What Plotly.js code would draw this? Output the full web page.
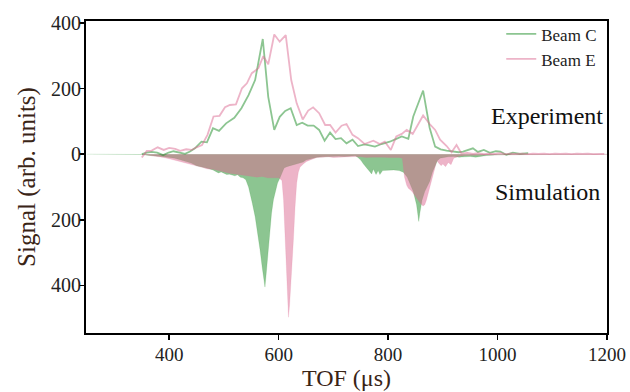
<!DOCTYPE html>
<html>
<head>
<meta charset="utf-8">
<script src="https://cdn.plot.ly/plotly-3.0.1.min.js"></script>
<style>html,body{margin:0;padding:0;background:#fff;}#chart{width:630px;height:392px;}</style>
</head>
<body>
<div id="chart"></div>
<script>
// Experiment, Beam C (TOF in µs, signal in arb. units)
var expC_tof = [350,359,368,378,389,399,408,419,429,438,447,459,469,480,491,504,519,532,545,557,571,581,592,602,612,622,633,643,653,664,674,684,694,704,714,724,735,745,757,766,776,788,803,814,825,837,846,864,876,886,896,907,919,929,937,946,955,964,975,986,997,1005,1016,1028,1041,1056];
var expC_sig = [0,5,7,5,-3,5,9,5,1,8,18,38,36,79,71,94,111,140,180,226,351,175,74,114,132,140,89,96,87,87,74,41,66,46,49,33,44,25,30,27,23,31,38,46,54,47,115,194,80,23,15,11,7,6,8,12,18,7,13,4,9,8,-2,5,1,3];

// Experiment, Beam E
var expE_tof = [350,359,368,379,390,400,411,420,431,441,450,460,470,481,492,502,511,522,533,542,551,563,572,581,592,602,613,623,633,644,654,663,674,685,694,704,715,724,735,745,757,773,785,794,805,815,825,834,845,864,876,886,895,907,916,925,934,945,955,965,975,985,995,1005,1015,1025,1035,1045,1055,1065,1075,1085,1095,1105,1115,1125,1135,1145,1155,1165,1175,1185,1195];
var expE_sig = [-10,10,11,21,13,19,16,10,15,13,21,28,59,115,117,143,150,152,201,216,247,262,299,274,365,343,363,226,155,106,133,143,125,89,89,66,87,92,59,49,31,41,31,38,13,54,62,74,62,118,92,74,44,25,6,28,2,4,1,3,0,2,1,3,0,2,1,2,0,2,1,2,0,2,1,2,0,2,1,2,0,1,1];

// Simulation, Beam C (magnitude, drawn downward)
var simC_tof = [250,300,340,350,360,370,380,390,400,410,420,430,440,450,460,470,480,485,490,495,500,505,510,515,520,525,530,535,540,545,548,552,557,562,566,570,573,575,577,578.5,581,584.5,587,590.5,594,598,603,606,610,615,620,630,640,645,650,660,670,680,690,700,710,720,730,740,745,750,755,760,765,770,773,778,782,785,790,800,810,820,828,835,840,846,852,856,858,862,867,872,876,881,886,890,895,900,910,920,930,940,950,960,970,980,990,1000,1050,1100,1200];
var simC_sig = [0,0,0,1,3,4,5,8,10,12,17,22,27,35,38,43,48,52,57,54,58,62,61,64,66,63,70,72,78,100,119,150,190,240,291,345,390,405,370,342,290,230,180,139,110,88,70,55,42,38,36,32,28,24,18,13,9,8,7,8,6,7,6,5,10,18,30,40,48,60,45,62,50,62,50,48,48,50,55,70,90,114,154,205,180,140,114,95,83,55,33,20,12,10,8,7,9,8,7,9,6,4,3,2,1,0,0];

// Simulation, Beam E (magnitude, drawn downward)
var simE_tof = [350,360,370,380,390,400,410,420,430,440,450,460,470,480,490,500,510,520,530,540,550,560,570,580,590,600,606,609,611,613,616,618,620,622,624,627,630,633,636,639,645,651,660,670,680,690,700,710,720,730,740,750,760,770,780,790,800,810,820,826,830,834,837,843,850,856,860,864,867,870,876,881,886,889,893,897,900,905,910,915,920,930,940,960,1000,1100,1200];
var simE_sig = [0,2,4,7,10,14,18,24,27,30,35,40,45,46,50,55,58,60,62,65,66,70,68,72,72,72,80,140,220,312,443,497,460,410,362,261,160,88,55,40,30,22,16,10,9,8,10,9,8,9,7,8,10,9,8,9,10,9,10,12,70,95,104,112,130,145,152,158,154,140,104,70,43,20,28,35,30,38,25,32,12,6,4,3,2,1,1];

var seriesNames = ['Beam C', 'Beam E'];
var yTickVals = [-400, -200, 0, 200, 400];
var yTickText = ['400', '200', '0', '200', '400'];
var xTickVals = [400, 600, 800, 1000, 1200];

var green = 'rgba(25,140,35,0.5)';
var pink = 'rgba(219,105,145,0.5)';

function neg(a){ return a.map(function(v){ return -v; }); }

var traces = [
  {x: simC_tof, y: neg(simC_sig), type: 'scatter', mode: 'lines', fill: 'tozeroy',
   fillcolor: green, line: {color: 'rgba(25,140,35,0.25)', width: 0.6}, showlegend: false, hoverinfo: 'skip'},
  {x: simE_tof, y: neg(simE_sig), type: 'scatter', mode: 'lines', fill: 'tozeroy',
   fillcolor: pink, line: {color: 'rgba(219,105,145,0.25)', width: 0.6}, showlegend: false, hoverinfo: 'skip'},
  {x: expC_tof, y: expC_sig, type: 'scatter', mode: 'lines', name: seriesNames[0],
   line: {color: green, width: 1.8}},
  {x: expE_tof, y: expE_sig, type: 'scatter', mode: 'lines', name: seriesNames[1],
   line: {color: pink, width: 1.8}}
];

var serif = 'Liberation Serif, Times New Roman, serif';
var layout = {
  width: 630, height: 392,
  margin: {l: 86, r: 23, t: 21, b: 59},
  paper_bgcolor: '#fff', plot_bgcolor: '#fff',
  font: {family: serif, size: 20, color: '#222'},
  showlegend: true,
  legend: {x: 0.797, xanchor: 'left', y: 1.015, yanchor: 'top', bgcolor: 'rgba(0,0,0,0)',
           font: {family: serif, size: 17, color: '#222'}, tracegroupgap: 0},
  xaxis: {range: [248, 1200], tickvals: xTickVals, ticks: 'outside', ticklen: 5, tickwidth: 1.5,
          tickcolor: '#000', showline: true, linecolor: '#000', linewidth: 2, mirror: true,
          showgrid: false, zeroline: false, tickfont: {family: serif, size: 19, color: '#222'},
          ticklabelstandoff: -2,
          title: {text: 'TOF (μs)', font: {family: serif, size: 24, color: '#3a2416'}, standoff: 2}},
  yaxis: {range: [-545, 406], tickvals: yTickVals, ticktext: yTickText, ticks: 'outside', ticklen: 5,
          tickwidth: 1.5, tickcolor: '#000', showline: true, linecolor: '#000', linewidth: 2, mirror: true,
          showgrid: false, zeroline: false, tickfont: {family: serif, size: 20, color: '#222'},
          ticklabelstandoff: -6,
          title: {text: 'Signal (arb. units)', font: {family: serif, size: 25, color: '#3a2416'}, standoff: 8}},
  annotations: [
    {text: 'Experiment', xref: 'paper', yref: 'paper', x: 0.885, y: (333-116)/312, xanchor: 'center', yanchor: 'middle',
     showarrow: false, font: {family: serif, size: 24, color: '#111'}},
    {text: 'Simulation', xref: 'paper', yref: 'paper', x: 0.885, y: (333-192)/312, xanchor: 'center', yanchor: 'middle',
     showarrow: false, font: {family: serif, size: 24, color: '#111'}}
  ]
};

Plotly.newPlot('chart', traces, layout, {displayModeBar: false, staticPlot: true});
</script>
</body>
</html>
